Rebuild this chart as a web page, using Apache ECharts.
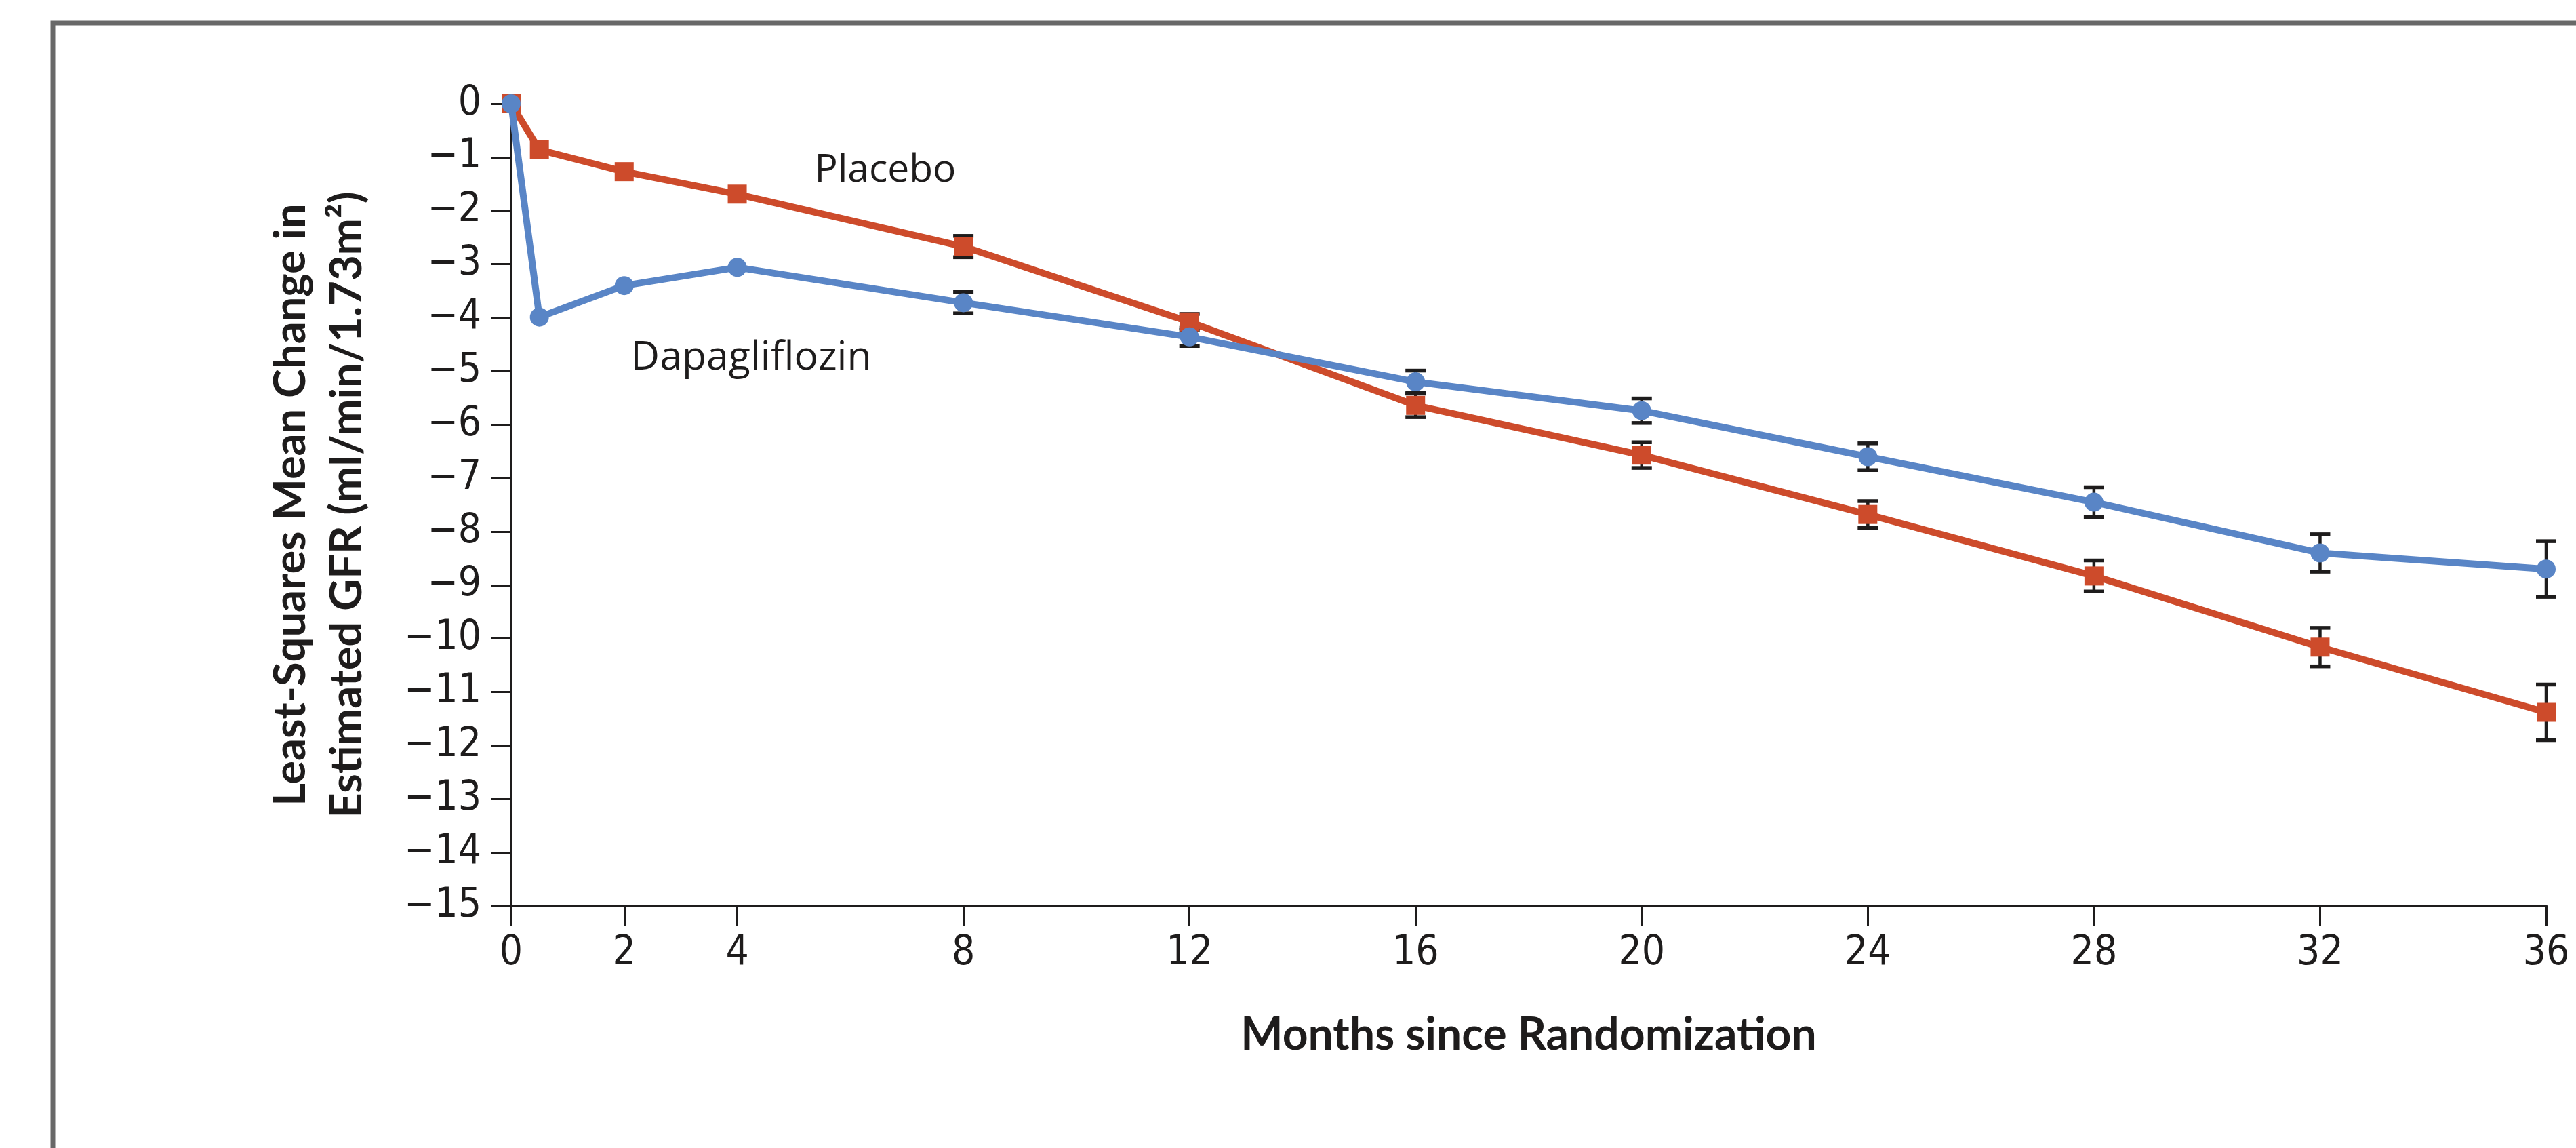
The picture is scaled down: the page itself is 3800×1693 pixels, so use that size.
<!DOCTYPE html>
<html>
<head>
<meta charset="utf-8">
<script src="https://cdn.jsdelivr.net/npm/echarts@6/dist/echarts.min.js"></script>
<style>
html,body{margin:0;padding:0;background:#ffffff;}
#chart{width:3800px;height:1693px;}
</style>
</head>
<body>
<div id="chart"></div>
<script>
// ---- data ----
const months      = [0, 0.5, 2, 4, 8, 12, 16, 20, 24, 28, 32, 36];
const placebo     = [0, -0.86, -1.27, -1.69, -2.67, -4.08, -5.64, -6.57, -7.68, -8.83, -10.16, -11.38];
const placeboErr  = [null, null, null, null, 0.20, 0.15, 0.22, 0.24, 0.25, 0.29, 0.36, 0.52];
const dapa        = [0, -3.99, -3.40, -3.06, -3.72, -4.36, -5.20, -5.74, -6.60, -7.45, -8.40, -8.70];
const dapaErr     = [null, null, null, null, 0.20, 0.17, 0.21, 0.23, 0.25, 0.28, 0.35, 0.52];
const xTicks      = [0, 2, 4, 8, 12, 16, 20, 24, 28, 32, 36];
const yMin = -15, yMax = 0, yStep = 1;
const seriesNames = ['Placebo', 'Dapagliflozin'];
const xTitle = 'Months since Randomization';
const yTitle = 'Least-Squares Mean Change in\nEstimated GFR (ml/min/1.73m\u00B2)';

// ---- styles ----
const RED = '#CD4B2B', BLUE = '#5985C6', INK = '#1e1c1c';
const tickFont = '"Liberation Sans Narrow", "Arial Narrow", "DejaVu Sans Condensed", sans-serif';
const titleFont = 'Lato, "Open Sans", sans-serif';
const labelFont = '"Open Sans", Lato, sans-serif';

const pts = (ys) => months.map((m, i) => [m, ys[i]]);
const errs = (ys, es) => months.map((m, i) => es[i] == null ? null : [m, ys[i] - es[i], ys[i] + es[i]]).filter(Boolean);

function errorBar(params, api) {
  const x = api.value(0), lo = api.value(1), hi = api.value(2);
  const p1 = api.coord([x, hi]), p2 = api.coord([x, lo]);
  const hw = 15;
  const st = { stroke: INK, lineWidth: 4.5 };
  const cst = { stroke: INK, lineWidth: 5.5 };
  return {
    type: 'group',
    children: [
      { type: 'line', shape: { x1: p1[0], y1: p1[1], x2: p2[0], y2: p2[1] }, style: st },
      { type: 'line', shape: { x1: p1[0] - hw, y1: p1[1], x2: p1[0] + hw, y2: p1[1] }, style: cst },
      { type: 'line', shape: { x1: p2[0] - hw, y1: p2[1], x2: p2[0] + hw, y2: p2[1] }, style: cst }
    ]
  };
}

const chart = echarts.init(document.getElementById('chart'), null, { renderer: 'canvas' });
chart.setOption({
  animation: false,
  backgroundColor: '#ffffff',
  grid: { left: 754, right: 44, top: 153, bottom: 357, containLabel: false, outerBoundsMode: 'none' },
  xAxis: {
    type: 'value', min: 0, max: 36,
    name: xTitle, nameLocation: 'middle', nameGap: 158,
    nameTextStyle: { fontFamily: titleFont, fontWeight: 'bold', fontSize: 66, color: INK },
    axisLine: { show: true, onZero: false, lineStyle: { color: INK, width: 4 } },
    axisTick: { show: true, inside: false, length: 30, customValues: xTicks, lineStyle: { color: INK, width: 3 } },
    axisLabel: { show: true, customValues: xTicks, margin: 40, fontFamily: tickFont, fontSize: 60, color: INK },
    splitLine: { show: false }
  },
  yAxis: {
    type: 'value', min: yMin, max: yMax, interval: yStep,
    name: yTitle, nameLocation: 'middle', nameRotate: 90, nameGap: 200,
    nameTextStyle: { fontFamily: titleFont, fontWeight: 'bold', fontSize: 65, lineHeight: 83, color: INK },
    axisLine: { show: true, onZero: false, lineStyle: { color: INK, width: 4 } },
    axisTick: { show: true, inside: false, length: 30, lineStyle: { color: INK, width: 3 } },
    axisLabel: {
      margin: 44, fontFamily: tickFont, fontSize: 60, color: INK,
      formatter: (v) => (v < 0 ? '\u2212' + Math.abs(v) : String(v))
    },
    splitLine: { show: false }
  },
  graphic: [
    { type: 'rect', silent: true, z: -10, shape: { x: 78, y: 34, width: 4000, height: 2000 },
      style: { fill: 'none', stroke: '#686868', lineWidth: 7 } },
    { type: 'text', silent: true, x: 1306, y: 252,
      style: { text: seriesNames[0], fontFamily: labelFont, fontSize: 57, fill: INK, align: 'center', verticalAlign: 'middle' } },
    { type: 'text', silent: true, x: 1108, y: 528,
      style: { text: seriesNames[1], fontFamily: labelFont, fontSize: 59, fill: INK, align: 'center', verticalAlign: 'middle' } }
  ],
  series: [
    { name: seriesNames[0] + ' SE', type: 'custom', renderItem: errorBar, data: errs(placebo, placeboErr),
      encode: { x: 0, y: [1, 2] }, z: 2, silent: true },
    { name: seriesNames[1] + ' SE', type: 'custom', renderItem: errorBar, data: errs(dapa, dapaErr),
      encode: { x: 0, y: [1, 2] }, z: 2, silent: true },
    { name: seriesNames[0], type: 'line', data: pts(placebo), symbol: 'rect', symbolSize: 28,
      lineStyle: { color: RED, width: 10 }, itemStyle: { color: RED }, z: 3 },
    { name: seriesNames[1], type: 'line', data: pts(dapa), symbol: 'circle', symbolSize: 28,
      lineStyle: { color: BLUE, width: 10 }, itemStyle: { color: BLUE }, z: 4 }
  ]
});
</script>
</body>
</html>
